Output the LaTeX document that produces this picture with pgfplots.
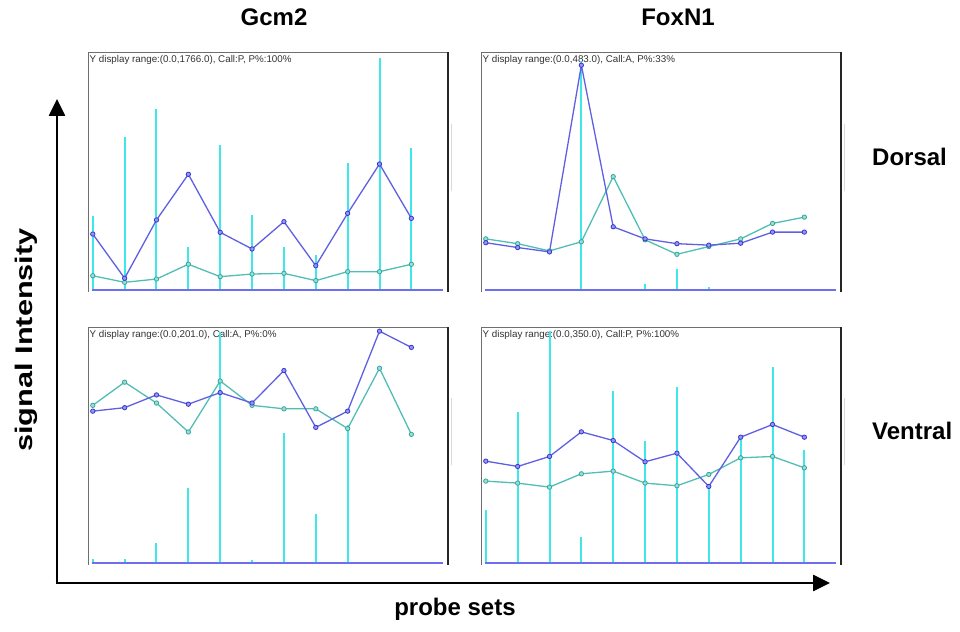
\documentclass[border=0pt]{standalone}
\usepackage{pgfplots}
\pgfplotsset{compat=1.18}
\usepackage{fontspec}
\setmainfont{Liberation Sans}
\usetikzlibrary{arrows.meta}

\definecolor{cyanbar}{RGB}{60,232,232}
\definecolor{blueline}{RGB}{95,95,228}
\definecolor{bluemark}{RGB}{55,55,205}
\definecolor{bluefill}{RGB}{150,150,245}
\definecolor{tealline}{RGB}{80,190,180}
\definecolor{tealmark}{RGB}{60,165,155}
\definecolor{tealfill}{RGB}{150,225,215}
\definecolor{baseblue}{RGB}{110,110,240}
\definecolor{framegray}{RGB}{110,110,110}
\definecolor{smalltext}{RGB}{50,50,50}

% x = probe set index, c = cyan bar, b = blue line, t = teal line
\pgfplotstableread{
x c b t
0 561 424 108
1 1157 89 58
2 1372 531 83
3 328 877 195
4 1099 437 101
5 568 311 121
6 328 518 126
7 265 184 71
8 960 581 139
9 1756 955 139
10 1074 543 195
}\gcmdorsal
\pgfplotstableread{
x c b t
0 0 98 106
1 2 88 96
2 0 79 81
3 475 466 100
4 0 131 235
5 12 106 104
6 44 96 74
7 7 93 90
8 0 97 106
9 0 120 138
10 0 120 151
}\foxdorsal
\pgfplotstableread{
x c b t
0 3.5 131 136
1 3.5 134 156
2 17 145 138
3 65 137 113
4 199 147 157
5 3 138 136
6 112 166 133
7 42 117 133
8 119 131 116
9 0 200 168
10 1 186 111
}\gcmventral
\pgfplotstableread{
x c b t
0 79 153 123
1 227 145 120
2 348 160 114
3 39 197 134
4 259 184 138
5 184 152 120
6 264 165 116
7 113 115 133
8 190 189 158
9 294 208 160
10 169 189 143
}\foxventral

\pgfplotsset{
  panel/.style={scale only axis, width=360bp, xmin=-0.15, xmax=11.15,
    hide axis, clip=false},
  cyanstyle/.style={ycomb, cyanbar, line width=2bp, mark=none},
  bluestyle/.style={blueline, line width=1.3bp, mark=*, mark size=2.2bp,
    mark options={draw=bluemark, fill=bluefill, line width=0.8bp}},
  tealstyle/.style={tealline, line width=1.3bp, mark=*, mark size=2.2bp,
    mark options={draw=tealmark, fill=tealfill, line width=0.8bp}},
  basestyle/.style={baseblue, line width=1.2bp, mark=none},
}

\newcommand{\panelframe}[1]{%
  \draw[framegray, line width=0.8bp] (rel axis cs:0,0) -- (rel axis cs:0,1) -- (rel axis cs:1,1);
  \draw[black!85, line width=1.8bp] (rel axis cs:1,1) -- (rel axis cs:1,0);
  \draw[black!15, line width=1bp] ([xshift=3bp]rel axis cs:1,0.42) -- ([xshift=3bp]rel axis cs:1,0.70);
  \node[anchor=north west, inner sep=0pt, font=\fontsize{9.8bp}{10.5bp}\selectfont, text=smalltext]
    at ([xshift=1.5bp, yshift=-3bp]rel axis cs:0,1) {#1};
}

\begin{document}
\begin{tikzpicture}
\path[use as bounding box] (0bp,0bp) rectangle (960bp,632bp);

% Top-left: Gcm2 dorsal
\begin{axis}[panel, height=240bp, at={(88bp,340bp)}, anchor=south west, ymin=-15.2, ymax=1803.9]
\panelframe{Y display range:(0.0,1766.0), Call:P, P\%:100\%}
\addplot[cyanstyle] table[x=x, y=c] {\gcmdorsal};
\addplot[basestyle] coordinates {(-0.03,0) (11,0)};
\addplot[tealstyle] table[x=x, y=t] {\gcmdorsal};
\addplot[bluestyle] table[x=x, y=b] {\gcmdorsal};
\end{axis}

% Top-right: FoxN1 dorsal
\begin{axis}[panel, height=240bp, at={(481bp,340bp)}, anchor=south west, ymin=-4.15, ymax=493.4]
\panelframe{Y display range:(0.0,483.0), Call:A, P\%:33\%}
\addplot[cyanstyle] table[x=x, y=c] {\foxdorsal};
\addplot[basestyle] coordinates {(-0.03,0) (11,0)};
\addplot[tealstyle] table[x=x, y=t] {\foxdorsal};
\addplot[bluestyle] table[x=x, y=b] {\foxdorsal};
\end{axis}

% Bottom-left: Gcm2 ventral
\begin{axis}[panel, height=238bp, at={(88bp,67bp)}, anchor=south west, ymin=-1.73, ymax=203.6]
\panelframe{Y display range:(0.0,201.0), Call:A, P\%:0\%}
\addplot[cyanstyle] table[x=x, y=c] {\gcmventral};
\addplot[basestyle] coordinates {(-0.03,0) (11,0)};
\addplot[tealstyle] table[x=x, y=t] {\gcmventral};
\addplot[bluestyle] table[x=x, y=b] {\gcmventral};
\end{axis}

% Bottom-right: FoxN1 ventral
\begin{axis}[panel, height=238bp, at={(481bp,67bp)}, anchor=south west, ymin=-3.0, ymax=354.5]
\panelframe{Y display range:(0.0,350.0), Call:P, P\%:100\%}
\addplot[cyanstyle] table[x=x, y=c] {\foxventral};
\addplot[basestyle] coordinates {(-0.03,0) (11,0)};
\addplot[tealstyle] table[x=x, y=t] {\foxventral};
\addplot[bluestyle] table[x=x, y=b] {\foxventral};
\end{axis}

% Titles and labels
\node[anchor=base, font=\fontsize{24bp}{28bp}\selectfont\bfseries] at (274bp,606bp) {Gcm2};
\node[anchor=base, font=\fontsize{24bp}{28bp}\selectfont\bfseries] at (678bp,606bp) {FoxN1};
\node[anchor=base west, inner sep=0pt, font=\fontsize{24bp}{28bp}\selectfont\bfseries] at (872bp,466bp) {Dorsal};
\node[anchor=base west, inner sep=0pt, font=\fontsize{24bp}{28bp}\selectfont\bfseries] at (872bp,192bp) {Ventral};
\node[anchor=base, font=\fontsize{24bp}{28bp}\selectfont\bfseries] at (455bp,17bp) {probe sets};
\node[rotate=90, font=\fontsize{24bp}{28bp}\selectfont\bfseries] at (26bp,292bp) {\scalebox{1.28}[1]{signal Intensity}};

% Axis arrows
\draw[line width=2.6bp, -{Triangle[length=17bp, width=16bp]}] (57bp,49bp) -- (57bp,533bp);
\draw[line width=2.6bp, -{Triangle[length=17bp, width=16bp]}] (55.7bp,49bp) -- (830bp,49bp);
\end{tikzpicture}
\end{document}
